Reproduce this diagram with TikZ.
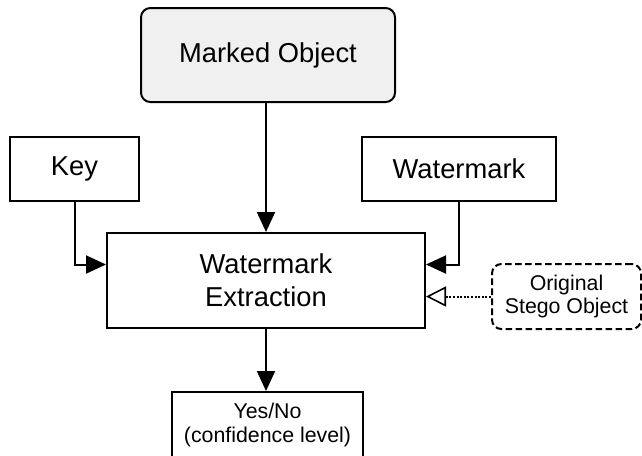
\documentclass[tikz,border=0pt]{standalone}
\usepackage{fontspec}
\setmainfont{Liberation Sans}
\usetikzlibrary{arrows.meta}

\begin{document}
\begin{tikzpicture}[x=0.75pt, y=-0.75pt,
    box/.style={draw, line width=1.5pt, align=center, inner sep=0pt,
        font=\fontsize{20.5}{25}\selectfont},
    smallbox/.style={box, font=\fontsize{16}{17.5}\selectfont},
    arr/.style={line width=1.5pt, -{Triangle[length=15pt, width=13.5pt]}},
    openarr/.style={line width=1.5pt, dash pattern=on 1.5pt off 1.2pt,
        -{Triangle[open, length=15pt, width=15pt, line width=1.2pt]}}]
    \useasboundingbox (0,0) rectangle (642,455);

    \node[box, fill=black!6, rounded corners=7pt, minimum width=190.5pt, minimum height=70.5pt]
        (marked) at (268,55) {Marked Object};
    \node[box, minimum width=96.75pt, minimum height=48pt] (key) at (74.5,169) {Key};
    \node[box, minimum width=145.5pt, minimum height=48pt] (wm) at (459,169) {Watermark};
    \node[box, minimum width=238.5pt, minimum height=71.25pt] (extr) at (266,280.5) {Watermark\\Extraction};
    \node[smallbox, dash pattern=on 5pt off 2.5pt, rounded corners=7pt, minimum width=111.75pt, minimum height=48.75pt]
        (stego) at (566.5,296.5) {Original\\Stego Object};
    \node[smallbox, minimum width=143.25pt, minimum height=49.5pt] (yesno) at (267.5,425) {Yes/No\\(confidence level)};

    \draw[arr] (extr.north |- marked.south) -- (extr.north);
    \draw[arr] (key.south) |- ([yshift=12pt]extr.west);
    \draw[arr] (wm.south) |- ([yshift=12pt]extr.east);
    \draw[openarr] (stego.west) -- (stego.west -| extr.east);
    \draw[arr] (extr.south) -- (yesno.north -| extr.south);
\end{tikzpicture}
\end{document}
